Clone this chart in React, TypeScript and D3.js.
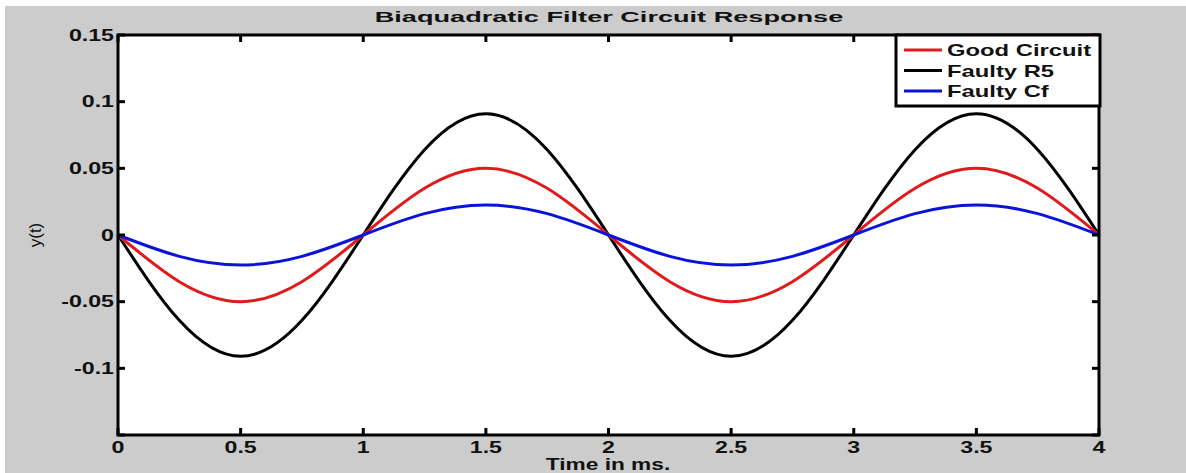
import React, { useEffect, useRef } from "react"
import * as d3 from "d3"

// time samples in ms (read every 0.25 ms)
const times = [0, 0.25, 0.5, 0.75, 1, 1.25, 1.5, 1.75, 2, 2.25, 2.5, 2.75, 3, 3.25, 3.5, 3.75, 4]

const goodCircuit = [0, -0.035, -0.05, -0.035, 0, 0.035, 0.05, 0.035, 0, -0.035, -0.05, -0.035, 0, 0.035, 0.05, 0.035, 0]
const faultyR5 = [0, -0.064, -0.091, -0.064, 0, 0.064, 0.091, 0.064, 0, -0.064, -0.091, -0.064, 0, 0.064, 0.091, 0.064, 0]
const faultyCf = [0, -0.016, -0.0225, -0.016, 0, 0.016, 0.0225, 0.016, 0, -0.016, -0.0225, -0.016, 0, 0.016, 0.0225, 0.016, 0]

const seriesNames = ["Good Circuit", "Faulty R5", "Faulty Cf"]
const seriesColors = ["#e01b1b", "#000000", "#0a14d8"]

const xTicks = [0, 0.5, 1, 1.5, 2, 2.5, 3, 3.5, 4]
const yTicks = [-0.15, -0.1, -0.05, 0, 0.05, 0.1, 0.15]
const yTickLabels = ["", "-0.1", "-0.05", "0", "0.05", "0.1", "0.15"]

const W = 1186
const H = 473
const FONT = "Liberation Sans, Arial, sans-serif"

export default function App() {
  const ref = useRef<SVGSVGElement>(null)

  useEffect(() => {
    const svg = d3.select(ref.current)
    svg.selectAll("*").remove()

    const left = 118, right = 1099, top = 35, bottom = 435
    const x = d3.scaleLinear().domain([0, 4]).range([left, right])
    const y = d3.scaleLinear().domain([-0.15, 0.15]).range([bottom, top])

    // the picture's text is stretched sideways, so each label is scaled in x
    const label = (parent, px, py, txt, { size = 16, sx = 1.45, anchor = "middle", bold = true, dy = "0" } = {}) =>
      parent.append("g")
        .attr("transform", `translate(${px},${py}) scale(${sx},1)`)
        .append("text")
        .attr("text-anchor", anchor)
        .attr("dy", dy)
        .attr("font-family", FONT)
        .attr("font-weight", bold ? "bold" : "normal")
        .attr("font-size", size)
        .attr("fill", "#111")
        .text(txt)

    // figure background
    svg.append("rect").attr("width", W).attr("height", H).attr("fill", "#ffffff")
    svg.append("rect").attr("x", 5).attr("y", 6).attr("width", W - 5).attr("height", H - 6).attr("fill", "#cccccc")
    svg.append("rect").attr("x", left).attr("y", top).attr("width", right - left).attr("height", bottom - top).attr("fill", "#ffffff")

    // curves
    const all = [goodCircuit, faultyR5, faultyCf]
    const line = d3.line<number>()
      .x((_, i) => x(times[i]))
      .y(d => y(d))
      .curve(d3.curveNatural)
    const plot = svg.append("g")
    ;[1, 0, 2].forEach(k => {
      plot.append("path")
        .attr("d", line(all[k]))
        .attr("fill", "none")
        .attr("stroke", seriesColors[k])
        .attr("stroke-width", 3)
    })

    // ticks (inward, on all four sides)
    const tl = 7
    const ticks = svg.append("g").attr("stroke", "#000").attr("stroke-width", 3)
    xTicks.forEach(t => {
      ticks.append("line").attr("x1", x(t)).attr("x2", x(t)).attr("y1", bottom).attr("y2", bottom - tl)
      ticks.append("line").attr("x1", x(t)).attr("x2", x(t)).attr("y1", top).attr("y2", top + tl)
    })
    yTicks.forEach(t => {
      ticks.append("line").attr("x1", left).attr("x2", left + tl).attr("y1", y(t)).attr("y2", y(t))
      ticks.append("line").attr("x1", right).attr("x2", right - tl).attr("y1", y(t)).attr("y2", y(t))
    })

    // box
    svg.append("rect")
      .attr("x", left).attr("y", top)
      .attr("width", right - left).attr("height", bottom - top)
      .attr("fill", "none").attr("stroke", "#000").attr("stroke-width", 3)

    // tick labels
    xTicks.forEach(t => label(svg, x(t), bottom + 18, String(t)))
    yTicks.forEach((t, i) => label(svg, left - 4, y(t), yTickLabels[i], { anchor: "end", dy: "0.36em" }))

    // title & axis labels
    label(svg, 609, 22, "Biaquadratic Filter Circuit Response", { size: 15.5, sx: 1.75 })
    label(svg, 608, 470, "Time in ms.", { size: 16, sx: 1.42 })
    svg.append("text").attr("transform", `translate(41,${y(0)}) rotate(-90)`)
      .attr("text-anchor", "middle").attr("font-family", FONT)
      .attr("font-size", 17).attr("fill", "#111").text("y(t)")

    // legend
    const lx = 896, ly = 35, lw = 204, lh = 71
    const leg = svg.append("g")
    leg.append("rect").attr("x", lx).attr("y", ly).attr("width", lw).attr("height", lh)
      .attr("fill", "#fff").attr("stroke", "#000").attr("stroke-width", 3)
    seriesNames.forEach((name, i) => {
      const yy = ly + 15 + i * 20.5
      leg.append("line").attr("x1", lx + 8).attr("x2", lx + 46).attr("y1", yy).attr("y2", yy)
        .attr("stroke", seriesColors[i]).attr("stroke-width", 3)
      label(leg, lx + 51, yy, name, { size: 17, sx: 1.4, anchor: "start", dy: "0.36em" })
    })
  }, [])

  return (
    <svg ref={ref} width={W} height={H}
      style={{ position: "absolute", left: 0, top: 0, display: "block" }} />
  )
}
